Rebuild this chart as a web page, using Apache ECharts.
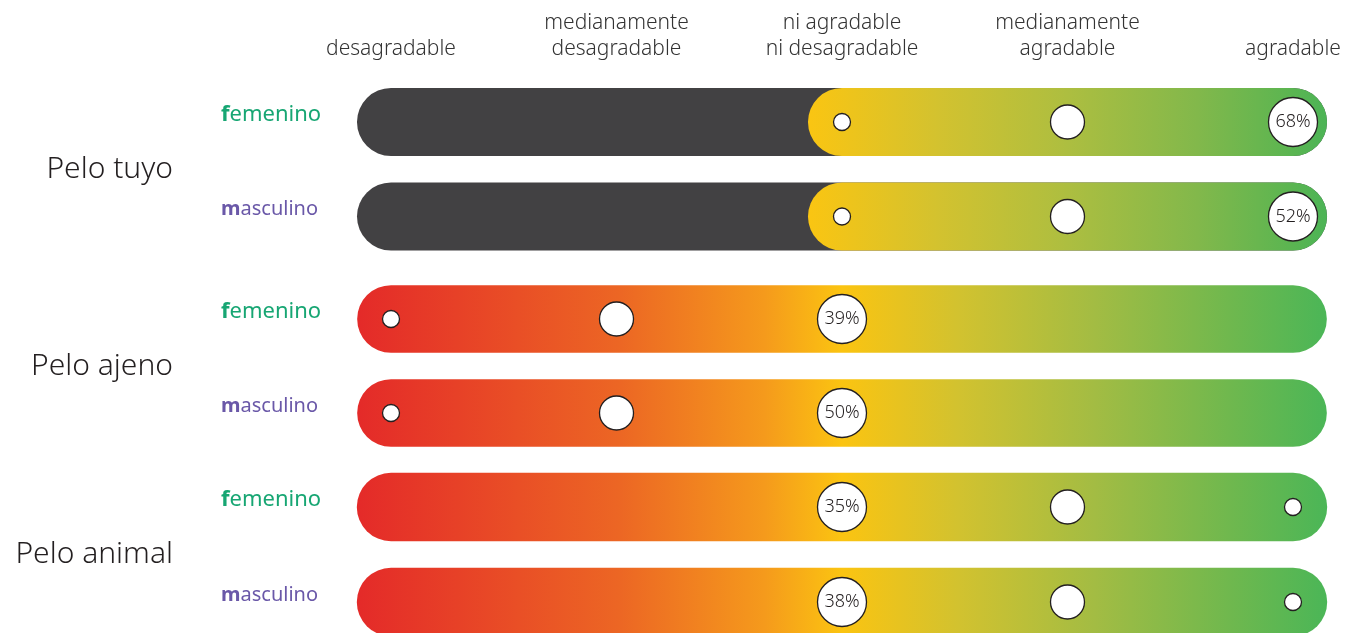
<!DOCTYPE html>
<html>
<head>
<meta charset="utf-8">
<script src="https://cdn.jsdelivr.net/npm/echarts@6/dist/echarts.min.js"></script>
<style>
html,body{margin:0;padding:0;background:#fff;}
#chart{width:1347px;height:633px;}
</style>
</head>
<body>
<div id="chart"></div>
<script>
// ---- data ----
const ratingLabels = ['desagradable', 'medianamente\ndesagradable', 'ni agradable\nni desagradable', 'medianamente\nagradable', 'agradable'];
const groups = ['Pelo tuyo', 'Pelo ajeno', 'Pelo animal'];
const genders = ['femenino', 'masculino'];
// share (%) per rating category; null = no circle (values without a label are estimated)
const tuyoFem    = [null, null, 7, 25, 68];
const tuyoMasc   = [null, null, 14, 34, 52];
const ajenoFem   = [22, 35, 39, null, null];
const ajenoMasc  = [16, 34, 50, null, null];
const animalFem  = [null, null, 35, 33, 20];
const animalMasc = [null, null, 38, 32, 18];
// first rating index where the coloured scale starts (lower ratings greyed out)
const scaleStart = [2, 0, 0];

const rows = [[tuyoFem, tuyoMasc], [ajenoFem, ajenoMasc], [animalFem, animalMasc]];

// ---- styling ----
const FONT = '"Noto Sans", sans-serif';
const rankSizes = [49, 34, 17];
const fullStops = [
  {offset: 0, color: '#E42A29'},
  {offset: 0.27, color: '#EC6624'},
  {offset: 0.42, color: '#F59A1C'},
  {offset: 0.5, color: '#FBC411'},
  {offset: 0.62, color: '#D2C22F'},
  {offset: 0.76, color: '#A3BC43'},
  {offset: 0.9, color: '#6FB84E'},
  {offset: 1, color: '#4BB657'}
];
const partStops = [
  {offset: 0, color: '#FAC512'},
  {offset: 0.25, color: '#D3C22F'},
  {offset: 0.5, color: '#ADBE40'},
  {offset: 0.75, color: '#82B84B'},
  {offset: 0.93, color: '#5BB551'},
  {offset: 1, color: '#4CB456'}
];
const DARK = '#424143';
const XMIN = -0.1508, XMAX = 4.1508;
// each grid spans from the centre of its first row to the centre of its second row
const gridTops = [122, 319, 507];
const gridHeights = [94.5, 94, 95];

const chart = echarts.init(document.getElementById('chart'));

const grid = [], xAxis = [], yAxis = [], series = [];

groups.forEach((g, gi) => {
  grid.push({left: 357, right: 20, top: gridTops[gi], height: gridHeights[gi], containLabel: false});
  xAxis.push({
    type: 'value', gridIndex: gi, min: XMIN, max: XMAX,
    position: 'top', splitLine: {show: false}, axisLine: {show: false}, axisTick: {show: false},
    axisLabel: gi === 0 ? {
      show: true, customValues: [0, 1, 2, 3, 4],
      formatter: v => ratingLabels[Math.round(v)],
      fontFamily: FONT, fontWeight: 300, fontSize: 21, color: '#333', lineHeight: 26,
      margin: 60, align: 'center'
    } : {show: false}
  });
  // gender row axis
  yAxis.push({
    type: 'category', gridIndex: gi, data: genders, inverse: true, boundaryGap: false,
    axisLine: {show: false}, axisTick: {show: false}, splitLine: {show: false},
    axisLabel: {
      margin: 136, align: 'left', padding: [0, 0, 14, 0],
      formatter: v => v === 'femenino'
        ? `{fb|${v[0]}}{fn|${v.slice(1)}}`
        : `{mb|${v[0]}}{mn|${v.slice(1)}}`,
      rich: {
        fb: {fontFamily: FONT, fontWeight: 700, fontSize: 22, color: '#17A673'},
        fn: {fontFamily: FONT, fontWeight: 400, fontSize: 22, color: '#17A673'},
        mb: {fontFamily: FONT, fontWeight: 700, fontSize: 20, color: '#6A58A8'},
        mn: {fontFamily: FONT, fontWeight: 400, fontSize: 20, color: '#6A58A8'}
      }
    }
  });
  // group name axis
  yAxis.push({
    type: 'category', gridIndex: gi, data: [g], position: 'left', boundaryGap: true,
    axisLine: {show: false}, axisTick: {show: false}, splitLine: {show: false},
    axisLabel: {margin: 184, align: 'right', padding: [0, 0, 4, 0], fontFamily: FONT, fontWeight: 300, fontSize: 30, color: '#231F20'}
  });

  // capsule bars
  const barData = [];
  genders.forEach((gd, ri) => {
    if (scaleStart[gi] > 0) {
      barData.push([0, 4, ri, 0]);                 // grey base
      barData.push([scaleStart[gi], 4, ri, 2]);     // partial colour scale
    } else {
      barData.push([0, 4, ri, 1]);                  // full colour scale
    }
  });
  series.push({
    type: 'custom', xAxisIndex: gi, yAxisIndex: gi * 2, z: 1, silent: true, clip: false,
    data: barData,
    renderItem: (params, api) => {
      const row = api.value(2);
      const p0 = api.coord([api.value(0), row]);
      const p1 = api.coord([api.value(1), row]);
      const h = api.size([0, 1])[1] * 0.72;
      const r = h / 2;
      const kind = api.value(3);
      const fill = kind === 0 ? DARK
        : new echarts.graphic.LinearGradient(0, 0, 1, 0, kind === 1 ? fullStops : partStops);
      return {
        type: 'rect',
        shape: {x: p0[0] - r, y: p0[1] - r, width: p1[0] - p0[0] + 2 * r, height: h, r: r},
        style: {fill: fill}
      };
    }
  });

  // circles
  const pts = [];
  rows[gi].forEach((vals, ri) => {
    const present = vals.map((v, i) => ({v, i})).filter(o => o.v !== null).sort((a, b) => b.v - a.v);
    present.forEach((o, rank) => pts.push([o.i, ri, o.v, rank]));
  });
  series.push({
    type: 'scatter', xAxisIndex: gi, yAxisIndex: gi * 2, z: 3, silent: true, clip: false,
    data: pts,
    symbol: 'circle',
    symbolSize: (val) => rankSizes[val[3]],
    itemStyle: {color: '#fff', borderColor: '#231F20', borderWidth: 1.3, opacity: 1},
    label: {
      show: true, position: 'inside',
      formatter: p => p.value[3] === 0 ? p.value[2] + '%' : '',
      fontFamily: FONT, fontWeight: 300, fontSize: 18, color: '#231F20'
    }
  });
});

chart.setOption({
  animation: false,
  backgroundColor: '#fff',
  grid, xAxis, yAxis, series
});
</script>
</body>
</html>
